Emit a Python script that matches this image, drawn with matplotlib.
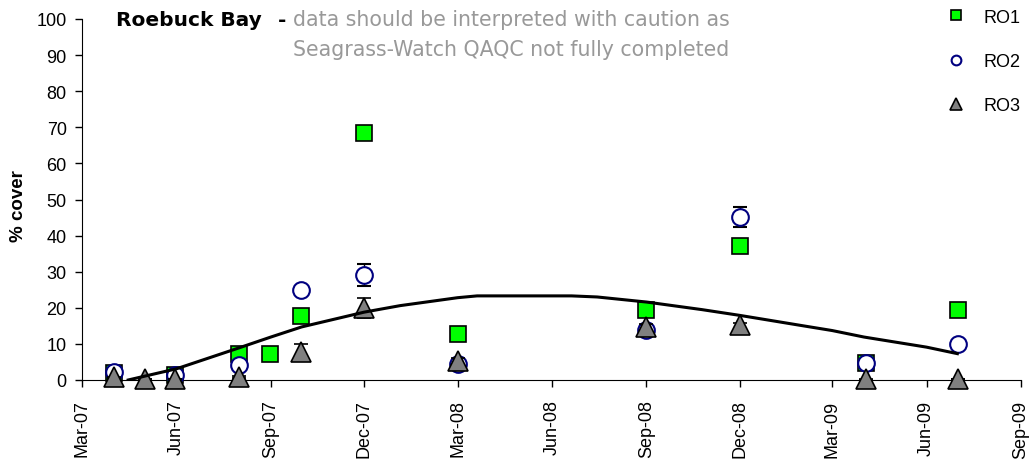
import datetime as dt
import matplotlib
matplotlib.use("Agg")
import matplotlib.pyplot as plt
import matplotlib.dates as mdates
from matplotlib.lines import Line2D

plt.rcParams['font.family'] = ['Liberation Sans', 'DejaVu Sans']

# sampling dates
dates = ['2007-04-01', '2007-05-01', '2007-05-31', '2007-08-01', '2007-08-31', '2007-09-30',
         '2007-12-01', '2008-03-01', '2008-09-01', '2008-12-01', '2009-04-03', '2009-07-02']

# % cover per site (None = no sample)
ro1 = [2.0, None, 1.5, 7.3, 7.2, 17.6, 68.5, 12.8, 19.3, 37.2, 4.7, 19.3]
ro2 = [2.3, None, 1.5, 4.2, None, 25.0, 29.0, 4.3, 13.9, 45.2, 4.7, 9.9]
ro3 = [0.7, 0.3, 0.3, 0.8, None, 7.8, 20.0, 5.2, 14.7, 15.1, 0.2, 0.3]

ro1_err = [0.3, 0, 0.3, 0.8, 0, 0.5, 1.2, 0.5, 0.5, 0.5, 0.3, 1.0]
ro2_err = [0.3, 0, 0.3, 0.5, 0, 0.8, 3.0, 0.5, 0.5, 2.8, 0.3, 0.5]
ro3_err = [0.2, 0.1, 0.1, 0.3, 0, 2.3, 2.7, 0.8, 0.8, 0.6, 0.1, 0.1]

# trend line
trend_dates = ['2007-04-15', '2007-06-01', '2007-08-01', '2007-09-01', '2007-10-01', '2007-12-01',
               '2008-01-05', '2008-03-01', '2008-03-20', '2008-06-20', '2008-07-15', '2008-09-01',
               '2008-10-25', '2008-12-01', '2009-02-01', '2009-03-01', '2009-04-01', '2009-06-01',
               '2009-07-01']
trend = [0.0, 3.1, 8.9, 11.9, 14.7, 18.8, 20.6, 22.8, 23.3, 23.3, 23.0, 21.6,
         19.5, 17.9, 15.0, 13.7, 11.9, 9.1, 7.3]


def to_dates(lst):
    return [dt.datetime.strptime(d, '%Y-%m-%d') for d in lst]


def pick(vals, errs):
    xs, ys, es = [], [], []
    for d, v, e in zip(to_dates(dates), vals, errs):
        if v is not None:
            xs.append(d)
            ys.append(v)
            es.append(e)
    return xs, ys, es


fig = plt.figure(figsize=(10.3, 4.64), dpi=100)
ax = fig.add_axes([82 / 1030, 1 - 381 / 464, 939 / 1030, 361 / 464])

x1, y1, e1 = pick(ro1, ro1_err)
x2, y2, e2 = pick(ro2, ro2_err)
x3, y3, e3 = pick(ro3, ro3_err)

sq = dict(marker='s', mfc='#00ff00', mec='black', mew=1.2)
ci = dict(marker='o', mfc='white', mec='#000080', mew=1.5)
tr = dict(marker='^', mfc='#808080', mec='black', mew=1.2)

ax.errorbar(x1, y1, yerr=e1, ls='none', ms=12, ecolor='black', elinewidth=1,
            capsize=5, zorder=3, clip_on=False, **sq)
ax.errorbar(x2, y2, yerr=e2, ls='none', ms=12, ecolor='black', elinewidth=1,
            capsize=5, zorder=4, clip_on=False, **ci)
ax.errorbar(x3, y3, yerr=e3, ls='none', ms=14, ecolor='black', elinewidth=1,
            capsize=5, zorder=5, clip_on=False, **tr)

ax.plot(to_dates(trend_dates), trend, color='black', lw=2.2, zorder=6)

ax.set_xlim(dt.datetime(2007, 3, 1), dt.datetime(2009, 9, 1))
ax.set_ylim(0, 100)
ax.set_yticks(range(0, 101, 10))
ax.xaxis.set_major_locator(mdates.MonthLocator(bymonth=[3, 6, 9, 12]))
ax.xaxis.set_major_formatter(mdates.DateFormatter('%b-%y'))
for lab in ax.get_xticklabels():
    lab.set_rotation(90)

ax.tick_params(axis='both', labelsize=13, direction='out', length=5, width=1)
ax.tick_params(axis='y', pad=6)
ax.tick_params(axis='x', pad=9)
ax.spines['top'].set_visible(False)
ax.spines['right'].set_visible(False)
ax.set_ylabel('% cover', fontsize=13.5, fontweight='bold')
ax.yaxis.set_label_coords(-0.059, 0.485)

handles = [Line2D([], [], ls='none', ms=7, label='RO1', **sq),
           Line2D([], [], ls='none', ms=7, label='RO2', **ci),
           Line2D([], [], ls='none', ms=8, label='RO3', **tr)]
ax.legend(handles=handles, loc='upper left', bbox_to_anchor=(929 / 1030, 1.014),
          bbox_transform=fig.transFigure, frameon=False, fontsize=13, labelspacing=1.5,
          handlelength=1.2, handletextpad=0.9)

title_font = ['DejaVu Sans']
fig.text(116 / 1030, 1 - 20 / 464, 'Roebuck Bay', fontsize=14.5, fontweight='bold',
         va='center', family=title_font)
fig.text(278 / 1030, 1 - 20 / 464, '-', fontsize=14.5, fontweight='bold', va='center',
         family=title_font)
fig.text(293 / 1030, 1 - 20 / 464, 'data should be interpreted with caution as',
         fontsize=14.8, color='#999999', va='center', family=title_font)
fig.text(293 / 1030, 1 - 50 / 464, 'Seagrass-Watch QAQC not fully completed',
         fontsize=14.8, color='#999999', va='center', family=title_font)

fig.savefig('out.png', dpi=100)
